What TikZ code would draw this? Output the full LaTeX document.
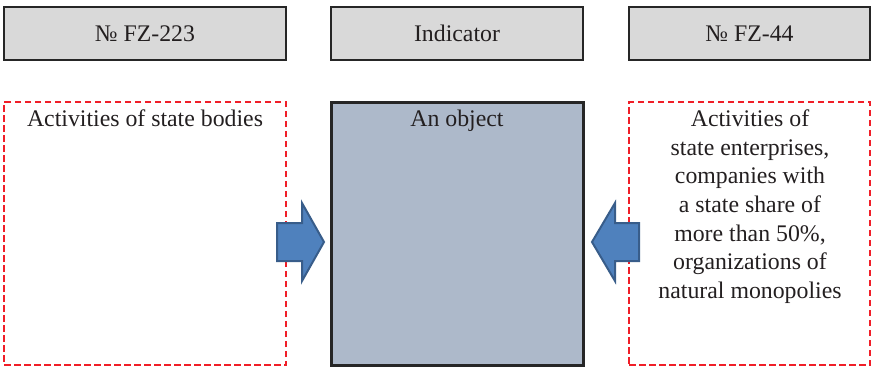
\documentclass[tikz,border=0pt]{standalone}
\usepackage{fontspec}
\setmainfont{Liberation Serif}
\definecolor{hdrfill}{HTML}{D9D9D9}
\definecolor{hdrline}{HTML}{262626}
\definecolor{objfill}{HTML}{ADB9CA}
\definecolor{dashred}{HTML}{F01E28}
\definecolor{arrfill}{HTML}{4F81BD}
\definecolor{arrline}{HTML}{385D8A}
\definecolor{txt}{HTML}{231F20}
\begin{document}
\begin{tikzpicture}[x=1pt,y=-1pt,
  every node/.style={font=\fontsize{23.8}{28.6}\selectfont, text=txt, inner sep=0pt, outer sep=0pt},
  hdrbox/.style={draw=hdrline, fill=hdrfill, line width=2.6pt, minimum height=53pt},
  dashbox/.style={draw=dashred, line width=2.6pt, dash pattern=on 6.5pt off 3.5pt, minimum height=263pt},
  objbox/.style={draw=hdrline, fill=objfill, line width=3pt, minimum height=263pt},
  blockarrow/.style={fill=arrfill, draw=arrline, line width=2pt, line join=miter}
]
\useasboundingbox (0,0) rectangle (872,367);
% headers
\node[hdrbox, minimum width=282pt] (h1) at (145,33.5) {№ FZ-223};
\node[hdrbox, minimum width=252pt] (h2) at (457,33.5) {Indicator};
\node[hdrbox, minimum width=241pt] (h3) at (749.5,33.5) {№ FZ-44};
% boxes
\node[dashbox, minimum width=282pt] (b1) at (145,233.5) {};
\node[objbox, minimum width=252pt] (b2) at (457,233.5) {};
\node[dashbox, minimum width=241pt] (b3) at (749.5,233.5) {};
% texts
\node[anchor=base] (t1) at (145,126) {Activities of state bodies};
\node[anchor=base] (t2) at (457,126) {An object};
\node[anchor=north, align=center] (t3) at (750,110) {Activities of\\state enterprises,\\companies with\\a state share of\\more than 50\%,\\organizations of\\natural monopolies};
% block arrows
\draw[blockarrow] (277,223) -- (302,223) -- (302,203) -- (324,242) -- (302,281) -- (302,261) -- (277,261) -- cycle;
\draw[blockarrow] (639,223) -- (615,223) -- (615,203) -- (592,242) -- (615,281) -- (615,261) -- (639,261) -- cycle;
\end{tikzpicture}
\end{document}
